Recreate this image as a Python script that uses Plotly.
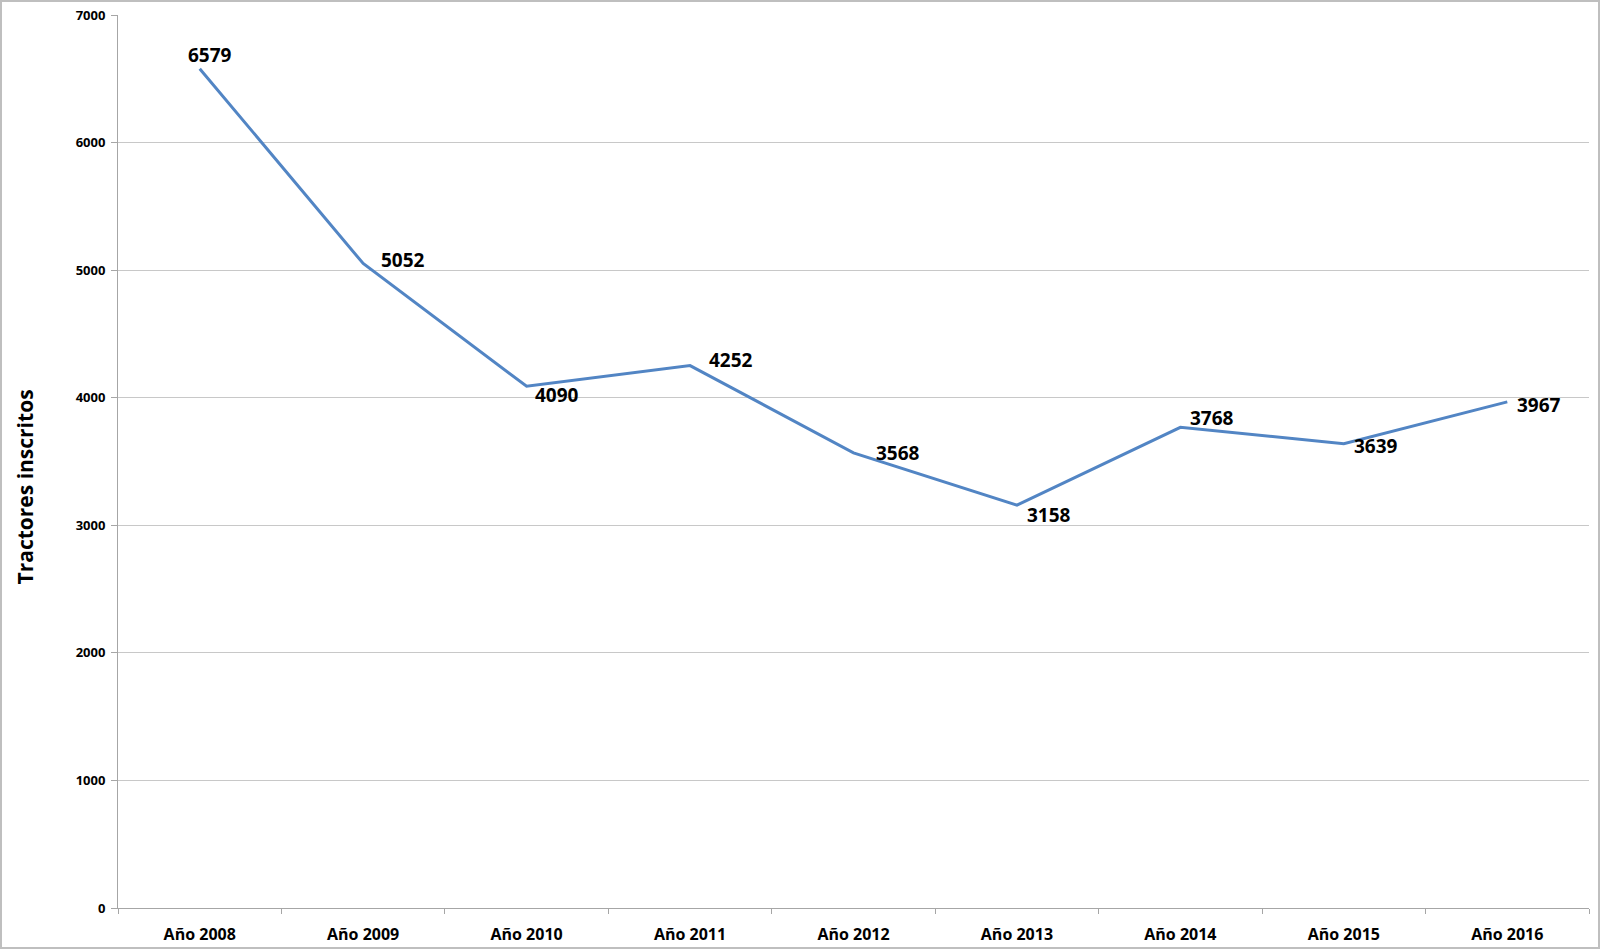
import plotly.graph_objects as go

categories = ["Año 2008", "Año 2009", "Año 2010", "Año 2011", "Año 2012",
              "Año 2013", "Año 2014", "Año 2015", "Año 2016"]
values = [6579, 5052, 4090, 4252, 3568, 3158, 3768, 3639, 3967]
y_ticks = [0, 1000, 2000, 3000, 4000, 5000, 6000, 7000]

# label offsets in pixels (style only): x shift, y shift, anchor
label_dx = [10, 16, 6, 17, 20, 8, 7, 8, 8]
label_dy = [13, 3, -9, 5, 0, -10, 9, -2, -3]
label_anchor = ["center", "left", "left", "left", "left", "left", "left", "left", "left"]

W, H = 1600, 949
ML, MR, MT, MB = 118, 11, 15, 41
pw, ph = W - ML - MR, H - MT - MB
FONT = "Open Sans"

fig = go.Figure()
fig.add_trace(go.Scatter(
    x=categories, y=values, mode="lines",
    line=dict(color="#5285C4", width=3),
    cliponaxis=False, showlegend=False, hoverinfo="x+y",
))

annotations = []
for c, v, dx, dy, anc in zip(categories, values, label_dx, label_dy, label_anchor):
    annotations.append(dict(
        x=c, y=v, xref="x", yref="y", text=str(v), showarrow=False,
        xanchor=anc, yanchor="middle", xshift=dx * 1.02, yshift=dy * 1.02,
        font=dict(family=FONT, size=19, color="black", weight="bold"),
    ))
annotations.append(dict(
    x=(24.5 - ML) / pw, y=1 - (487 - MT) / ph, xref="paper", yref="paper",
    text="Tractores inscritos", textangle=-90, showarrow=False,
    xanchor="center", yanchor="middle",
    font=dict(family=FONT, size=21, color="black", weight="bold"),
))

fig.update_layout(
    width=W, height=H,
    margin=dict(l=ML, r=MR, t=MT, b=MB, pad=0),
    paper_bgcolor="white", plot_bgcolor="white",
    font=dict(family=FONT, color="black"),
    xaxis=dict(
        type="category", range=[-0.5, len(categories) - 0.5],
        showgrid=False, showline=True, linecolor="#A6A6A6", linewidth=1,
        ticks="outside", ticklen=5, tickcolor="#A6A6A6", tickson="boundaries",
        tickfont=dict(family=FONT, size=16, color="black", weight="bold"),
        ticklabelstandoff=12, automargin=False, fixedrange=True,
    ),
    yaxis=dict(
        range=[0, 7000], tickvals=y_ticks,
        showgrid=True, gridcolor="#C8C8C8", gridwidth=1,
        showline=True, linecolor="#A6A6A6", linewidth=1,
        ticks="outside", ticklen=6, tickcolor="#A6A6A6",
        tickfont=dict(family=FONT, size=13, color="black", weight="bold"),
        ticklabelstandoff=3, automargin=False,
        zeroline=False, fixedrange=True,
    ),
    annotations=annotations,
    shapes=[dict(
        type="rect", xref="paper", yref="paper",
        x0=-(ML - 1) / pw, x1=1 + (MR - 1) / pw,
        y0=-(MB - 1) / ph, y1=1 + (MT - 1) / ph,
        line=dict(color="#BFBFBF", width=2), fillcolor="rgba(0,0,0,0)",
        layer="below",
    )],
)

fig.write_html("out.html")
